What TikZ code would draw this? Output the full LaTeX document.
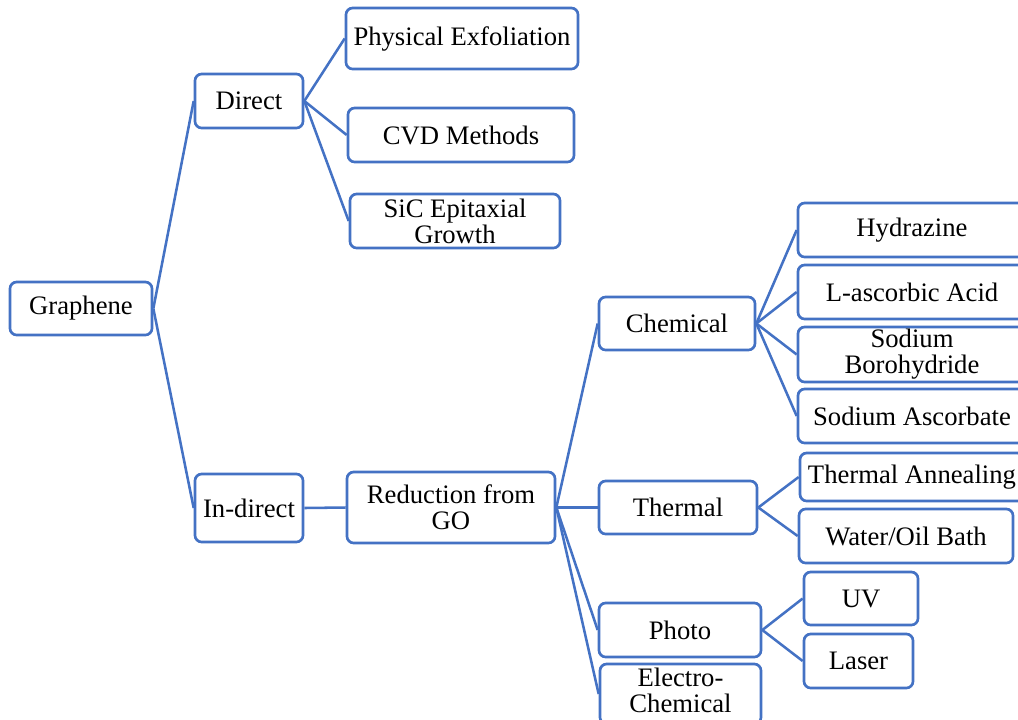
\documentclass[tikz,border=0pt]{standalone}
\usepackage{fontspec}
\setmainfont{Liberation Serif}
\definecolor{wordblue}{RGB}{68,114,196}

\begin{document}
\begin{tikzpicture}[x=0.75pt,y=-0.75pt,line width=2pt,draw=wordblue,
  main node/.style={draw=wordblue,rectangle,rounded corners=5pt,fill=white,align=center,inner sep=0pt,font=\fontsize{20}{19.5}\selectfont},
  link/.style={draw=wordblue,line width=1.9pt}]

      \useasboundingbox (0,0) rectangle (1018,719);
      \clip (0,0) rectangle (1018,719);

      \node[main node,minimum width=106.5pt,minimum height=39.75pt] at (81,308.5) (1) {Graphene};
      \node[main node,minimum width=81pt,minimum height=40.5pt] at (249,101) (2) {Direct};
      \node[main node,minimum width=81pt,minimum height=51pt] at (249,508) (3) {In-direct};
      \node[main node,minimum width=174pt,minimum height=45.75pt] at (462,38.5) (4) {Physical Exfoliation};
      \node[main node,minimum width=169.5pt,minimum height=40.5pt] at (461,135) (5) {CVD Methods};
      \node[main node,minimum width=157.5pt,minimum height=40.5pt] at (455,221) (6) {SiC Epitaxial\\ Growth};
      \node[main node,minimum width=156pt,minimum height=53.25pt] at (451,507.5) (7) {Reduction from\\ GO};
      \node[main node,minimum width=117pt,minimum height=39.75pt] at (677,323.5) (8) {Chemical};
      \node[main node,minimum width=118.5pt,minimum height=39.75pt] at (678,507.5) (9) {Thermal};
      \node[main node,minimum width=121.5pt,minimum height=40.5pt] at (680,630) (10) {Photo};
      \node[main node,minimum width=120.75pt,minimum height=45pt] at (680.5,694) (11) {\raisebox{3pt}{\begin{tabular}{@{}c@{}}Electro-\\ Chemical\end{tabular}}};
      \node[main node,minimum width=171pt,minimum height=40.5pt] at (912,230) (12) {Hydrazine};
      \node[main node,minimum width=171pt,minimum height=40.5pt] at (912,292) (13) {L-ascorbic Acid};
      \node[main node,minimum width=171pt,minimum height=41.25pt] at (912,354.5) (14) {Sodium\\ Borohydride};
      \node[main node,minimum width=171pt,minimum height=40.5pt] at (912,416) (15) {Sodium Ascorbate};
      \node[main node,minimum width=168pt,minimum height=36pt] at (912,477) (16) {Thermal Annealing};
      \node[main node,minimum width=160.5pt,minimum height=40.5pt] at (906,536) (17) {Water/Oil Bath};
      \node[main node,minimum width=85.5pt,minimum height=39.75pt] at (861,598.5) (18) {UV};
      \node[main node,minimum width=81.75pt,minimum height=40.5pt] at (858.5,661) (19) {Laser};

      \path[link]
      (1.east) edge (2.west)
      (1.east) edge (3.west)
      (2.east) edge (4.west)
      (2.east) edge (5.west)
      (2.east) edge (6.west)
      (3.east) edge (7.west)
      (7.east) edge (8.west)
      (7.east) edge (9.west)
      (7.east) edge (10.west)
      (7.east) edge (11.west)
      (8.east) edge (12.west)
      (8.east) edge (13.west)
      (8.east) edge (14.west)
      (8.east) edge (15.west)
      (9.east) edge (16.west)
      (9.east) edge (17.west)
      (10.east) edge (18.west)
      (10.east) edge (19.west)
      ;

    \end{tikzpicture}
\end{document}
